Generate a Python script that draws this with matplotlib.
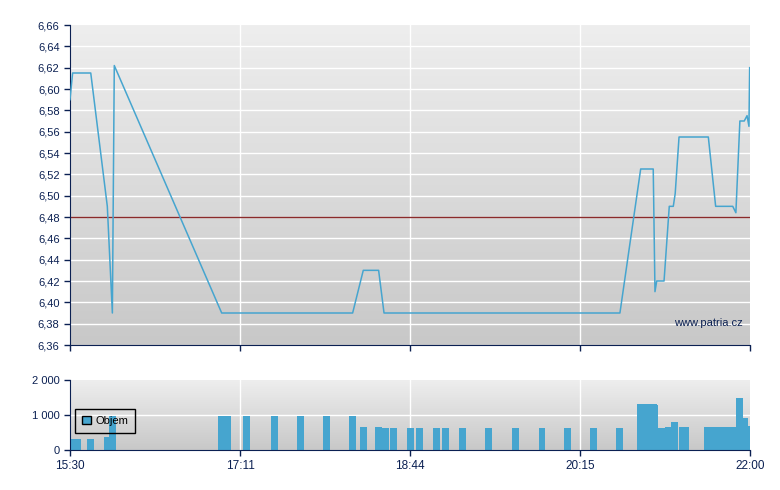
import matplotlib
matplotlib.use("Agg")
import matplotlib.pyplot as plt
import numpy as np
from matplotlib.patches import Patch

# time axis: minutes after 15:30
tick_pos = [0, 97.5, 195, 292.5, 390]
tick_lab = ['15:30', '17:11', '18:44', '20:15', '22:00']

price_t = [0, 1.5, 11.9, 21.4, 24.3, 25.4, 87.0, 162.1, 168.2, 177.0, 180.1,
           315.4, 327.3, 334.5, 335.5, 336.5, 340.7, 343.7, 346.0, 347.1, 349.3,
           366.1, 370.3, 380.1, 381.9, 384.2, 386.7, 388.3, 389.4, 389.8]
price_v = [6.59, 6.615, 6.615, 6.49, 6.39, 6.622, 6.39, 6.39, 6.43, 6.43, 6.39,
           6.39, 6.525, 6.525, 6.41, 6.42, 6.42, 6.49, 6.49, 6.502, 6.555,
           6.555, 6.49, 6.49, 6.484, 6.57, 6.57, 6.575, 6.565, 6.62]
ref_price = 6.48

vol_t = [2.6, 4.3, 11.6, 21.5, 24.5, 86.9, 90.2, 101.4, 117.1, 132.2, 147.1,
         162.0, 168.3, 176.9, 180.7, 185.8, 195.3, 200.4, 210.2, 215.4, 225.1,
         240.0, 255.5, 270.7, 285.3, 300.2, 315.1, 327.2, 331.2, 335.2, 334.6,
         339.5, 343.2, 346.7, 351.3, 353.0, 365.9, 369.9, 373.9, 377.9, 381.9,
         386.8, 384.0, 388.9]
vol_v = [310, 310, 310, 370, 970, 970, 970, 970, 970, 970, 970,
         970, 660, 660, 630, 630, 630, 630, 630, 630, 630,
         630, 630, 630, 630, 630, 630, 1310, 1310, 1290, 1310,
         630, 660, 800, 660, 660, 660, 660, 660, 660, 660,
         910, 1490, 690]

navy = '#0b2052'
blue = '#46a5cf'
plt.rcParams['font.family'] = ['Liberation Sans', 'DejaVu Sans']

fig = plt.figure(figsize=(7.8, 4.9), dpi=100)
ax1 = fig.add_axes([70/780, 1-345/490, 680/780, 320/490])
ax2 = fig.add_axes([70/780, 1-450/490, 680/780, 70/490])

grad = np.linspace(0, 1, 256).reshape(-1, 1)
for ax in (ax1, ax2):
    ax.imshow(grad, extent=[0, 1, 0, 1], transform=ax.transAxes, aspect='auto',
              cmap=matplotlib.colors.LinearSegmentedColormap.from_list('g', ['#eeeeee', '#c8c8c8']),
              zorder=0)
    ax.set_xlim(0, 390)
    ax.set_xticks(tick_pos)
    for x in tick_pos[1:-1]:
        ax.axvline(x, color='white', lw=1, zorder=0.5)
    ax.spines['top'].set_visible(False)
    ax.spines['right'].set_visible(False)
    ax.spines['left'].set_color(navy)
    ax.spines['bottom'].set_color(navy)
    ax.tick_params(colors=navy, labelsize=8, length=4, width=1)

ax1.set_ylim(6.36, 6.66)
yt = np.round(np.arange(6.36, 6.661, 0.02), 2)
ax1.set_yticks(yt)
ax1.set_yticklabels([('%.2f' % v).replace('.', ',') for v in yt])
for y in yt[1:-1]:
    ax1.axhline(y, color='white', lw=1, zorder=0.5)
ax1.set_xticklabels([])
ax1.axhline(ref_price, color='#8a2a2a', lw=1, zorder=2)
ax1.plot(price_t, price_v, color=blue, lw=1.1, zorder=3)
ax1.text(0.99, 0.069, 'www.patria.cz', transform=ax1.transAxes, ha='right',
         va='center', fontsize=8, color=navy)

ax2.set_ylim(0, 2000)
ax2.set_yticks([0, 1000, 2000])
ax2.set_yticklabels(['0', '1 000', '2 000'])
ax2.axhline(1000, color='white', lw=1, zorder=0.5)
ax2.set_xticklabels(tick_lab, fontsize=8.5)
ax2.bar(vol_t, vol_v, width=4.0, color=blue, zorder=2)
leg = ax2.legend(handles=[Patch(facecolor=blue, edgecolor='black', lw=1, label='Objem')],
                 loc='lower left', bbox_to_anchor=(0.007, 0.24), borderaxespad=0,
                 fancybox=False, framealpha=1, fontsize=8, handlelength=0.8,
                 handleheight=0.8, handletextpad=0.4, borderpad=0.65)
leg.get_frame().set_facecolor('none')
leg.get_frame().set_edgecolor('black')
leg.get_frame().set_linewidth(1)

fig.savefig('out.png', dpi=100)
